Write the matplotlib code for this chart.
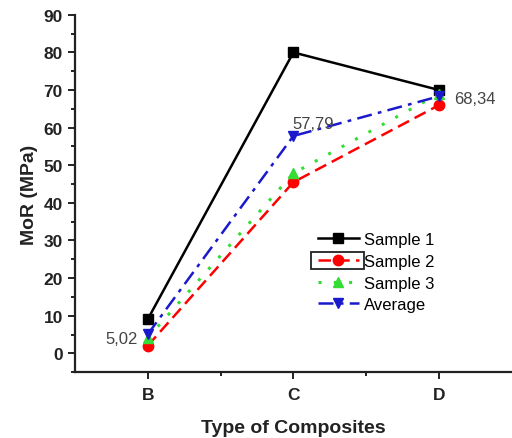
import matplotlib
matplotlib.use('Agg')
import matplotlib.pyplot as plt
from matplotlib.patches import Rectangle
import numpy as np

plt.rcParams['font.family'] = ['Liberation Sans', 'DejaVu Sans']

categories = ['B', 'C', 'D']
sample1 = [9.0, 80.0, 70.0]
sample2 = [2.0, 45.5, 66.0]
sample3 = [4.06, 47.87, 69.02]
average = [5.02, 57.79, 68.34]
avg_labels = ['5,02', '57,79', '68,34']

x = np.arange(1, len(categories) + 1)

fig = plt.figure(figsize=(5.12, 4.39), dpi=100)
ax = fig.add_axes([0.146, 0.150, 0.854, 0.814])

ax.plot(x, sample1, color='black', linestyle='-', linewidth=1.8,
        marker='s', markersize=7.5, label='Sample 1')
ax.plot(x, sample2, color='red', linestyle=(0, (5, 2.5)), linewidth=1.8,
        marker='o', markersize=7.5, label='Sample 2')
ax.plot(x, sample3, color='#33dd33', linestyle=(0, (1, 4)), linewidth=2.2,
        marker='^', markersize=7.5, label='Sample 3')
ax.plot(x, average, color='#1a1acc', linestyle=(0, (6, 2.5, 1.5, 2.5)), linewidth=1.8,
        marker='v', markersize=7.5, label='Average')

# value labels for the average curve
ax.text(x[0] - 0.07, average[0] - 1.0, avg_labels[0], ha='right', va='center',
        fontsize=12, color='#444444')
ax.text(x[1] - 0.01, average[1] + 3.3, avg_labels[1], ha='left', va='center',
        fontsize=12, color='#444444')
ax.text(x[2] + 0.1, average[2] - 0.5, avg_labels[2], ha='left', va='center',
        fontsize=12, color='#444444')

ax.set_xlim(0.5, 3.5)
ax.set_ylim(-5, 90)
ax.set_xticks(x)
ax.set_xticklabels(categories)
ax.set_xticks([1.5, 2.5], minor=True)
ax.set_yticks(np.arange(0, 91, 10))
ax.set_yticks(np.arange(-5, 91, 10), minor=True)

ax.spines['top'].set_visible(False)
ax.spines['right'].set_visible(False)
for s in ['left', 'bottom']:
    ax.spines[s].set_linewidth(1.6)
    ax.spines[s].set_color('#222222')

ax.tick_params(axis='both', which='major', direction='out', length=5, width=1.4,
               labelsize=12.5, colors='#222222')
ax.tick_params(axis='both', which='minor', direction='out', length=3, width=1.4,
               colors='#222222')
ax.tick_params(axis='x', which='major', pad=6)
for lab in ax.get_xticklabels() + ax.get_yticklabels():
    lab.set_fontweight('bold')

ax.set_xlabel('Type of Composites', fontsize=14, fontweight='bold', labelpad=12,
              color='#222222')
ax.set_ylabel('MoR (MPa)', fontsize=14, fontweight='bold', labelpad=4,
              color='#222222')

leg = ax.legend(loc='upper left', bbox_to_anchor=(0.54, 0.41), frameon=False,
                fontsize=12, handlelength=2.5, handletextpad=0.3,
                labelspacing=0.4, borderaxespad=0)

# the reference shows a thin frame around the Sample 2 legend symbol
fig.canvas.draw()
bb = leg.legend_handles[1].get_window_extent(fig.canvas.get_renderer())
yc = 0.5 * (bb.y0 + bb.y1)
inv = fig.transFigure.inverted()
(x0, y0), (x1, y1) = inv.transform([(bb.x0 - 1, yc - 8.5), (bb.x1, yc + 8.5)])
fig.add_artist(Rectangle((x0, y0), x1 - x0, y1 - y0, transform=fig.transFigure,
                         fill=False, edgecolor='#222222', linewidth=1.3))

fig.savefig('out.png', dpi=100)
